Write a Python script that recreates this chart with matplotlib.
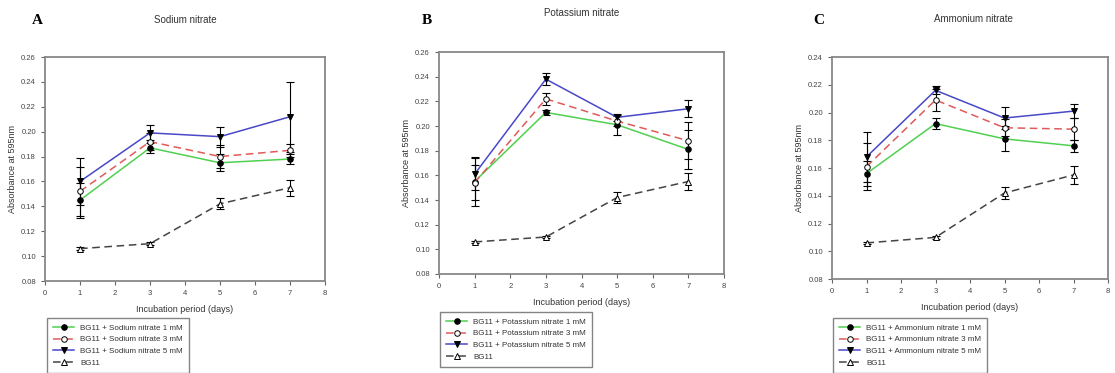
import matplotlib
matplotlib.use("Agg")
import matplotlib.pyplot as plt

plt.rcParams['font.family'] = ['Liberation Sans', 'DejaVu Sans']

days = [1, 3, 5, 7]

bg11 = [0.106, 0.110, 0.142, 0.155]
bg11_err = [0.001, 0.001, 0.0045, 0.0065]

sodium_1 = [0.145, 0.187, 0.175, 0.178]
sodium_1_err = [0.014, 0.004, 0.007, 0.004]
sodium_3 = [0.152, 0.192, 0.180, 0.185]
sodium_3_err = [0.020, 0.007, 0.009, 0.005]
sodium_5 = [0.160, 0.199, 0.196, 0.212]
sodium_5_err = [0.019, 0.006, 0.008, 0.028]

potassium_1 = [0.155, 0.211, 0.201, 0.181]
potassium_1_err = [0.020, 0.002, 0.008, 0.016]
potassium_3 = [0.154, 0.222, 0.204, 0.188]
potassium_3_err = [0.014, 0.005, 0.004, 0.015]
potassium_5 = [0.161, 0.238, 0.207, 0.214]
potassium_5_err = [0.013, 0.005, 0.003, 0.007]

ammonium_1 = [0.156, 0.192, 0.181, 0.176]
ammonium_1_err = [0.009, 0.004, 0.009, 0.0045]
ammonium_3 = [0.161, 0.209, 0.189, 0.188]
ammonium_3_err = [0.017, 0.008, 0.006, 0.008]
ammonium_5 = [0.168, 0.216, 0.196, 0.201]
ammonium_5_err = [0.018, 0.003, 0.008, 0.005]

W, H = 1115, 373
fig = plt.figure(figsize=(W / 100, H / 100), dpi=100)


def px_axes(left, top, right, bottom):
    return fig.add_axes([left / W, 1 - bottom / H, (right - left) / W, (bottom - top) / H])


def draw_panel(ax, salt, s1, e1, s3, e3, s5, e5, ymax):
    styles = [
        (s1, e1, '#50d050', '-', 'o', 'black', f'BG11 + {salt} 1 mM'),
        (s3, e3, '#e05a5a', (0, (5, 3)), 'o', 'white', f'BG11 + {salt} 3 mM'),
        (s5, e5, '#4848c8', '-', 'v', 'black', f'BG11 + {salt} 5 mM'),
        (bg11, bg11_err, '#444444', (0, (5, 3)), '^', 'white', 'BG11'),
    ]
    for vals, errs, color, ls, mk, face, label in styles:
        ax.errorbar(days, vals, yerr=errs, fmt='none', ecolor='black',
                    elinewidth=0.8, capsize=3, capthick=0.8, zorder=2)
        ax.plot(days, vals, color=color, linestyle=ls, linewidth=1.1,
                marker=mk, markersize=4, markerfacecolor=face,
                markeredgecolor='black', markeredgewidth=0.7,
                label=label, zorder=3)
    ax.set_xlim(0, 8)
    ax.set_ylim(0.08, ymax)
    ax.set_xticks(range(9))
    ticks = []
    t = 0.08
    while t <= ymax + 1e-9:
        ticks.append(round(t, 2))
        t += 0.02
    ax.set_yticks(ticks)
    ax.set_yticklabels([f'{v:.2f}' for v in ticks])
    ax.tick_params(labelsize=5.5, labelcolor='#444444', length=3,
                   width=0.8, color='#666666', direction='out')
    for sp in ax.spines.values():
        sp.set_color('#888888')
        sp.set_linewidth(1.3)
    ax.set_xlabel('Incubation period (days)', fontsize=6.5, color='#333333', labelpad=6)
    ax.set_ylabel('Absorbance at 595nm', fontsize=6.5, color='#333333', labelpad=3)
    return ax


ax_a = px_axes(45, 57, 325, 281)
draw_panel(ax_a, 'Sodium nitrate', sodium_1, sodium_1_err, sodium_3, sodium_3_err,
           sodium_5, sodium_5_err, 0.26)
ax_b = px_axes(439, 52, 724, 274)
draw_panel(ax_b, 'Potassium nitrate', potassium_1, potassium_1_err, potassium_3,
           potassium_3_err, potassium_5, potassium_5_err, 0.26)
ax_c = px_axes(832, 57, 1108, 279)
draw_panel(ax_c, 'Ammonium nitrate', ammonium_1, ammonium_1_err, ammonium_3,
           ammonium_3_err, ammonium_5, ammonium_5_err, 0.24)

# legends below each panel
for ax, (lx, ly) in [(ax_a, (47, 318)), (ax_b, (440, 312)), (ax_c, (833, 318))]:
    leg = fig.legend(*ax.get_legend_handles_labels(), loc='upper left',
                     bbox_to_anchor=(lx / W, 1 - ly / H), fontsize=5.8,
                     frameon=True, fancybox=False, edgecolor='#666666',
                     handlelength=2.6, borderpad=0.75, labelspacing=0.5,
                     handletextpad=0.8, borderaxespad=0)
    leg.get_frame().set_linewidth(1.0)
    for txt in leg.get_texts():
        txt.set_color('#333333')

# panel letters and titles
for letter, (x, y) in [('A', (37, 21)), ('B', (427, 21)), ('C', (819, 20))]:
    fig.text(x / W, 1 - y / H, letter, fontsize=11, fontweight='bold',
             family=['Liberation Serif', 'DejaVu Serif'], ha='center', va='center')
for title, (x, y) in [('Sodium nitrate', (185, 20)), ('Potassium nitrate', (582, 13)),
                      ('Ammonium nitrate', (973, 19))]:
    fig.text(x / W, 1 - y / H, title, fontsize=7, color='#333333', ha='center', va='center')

fig.savefig('out.png', dpi=100)
